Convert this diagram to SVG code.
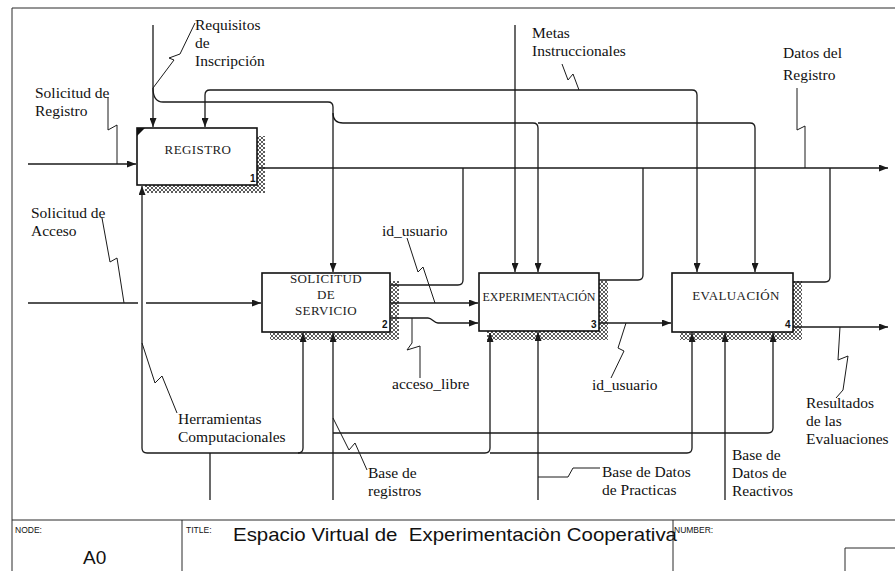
<svg xmlns="http://www.w3.org/2000/svg" width="895" height="571" viewBox="0 0 895 571">
<defs>
<marker id="arr" markerWidth="9" markerHeight="7" refX="9" refY="3.5" orient="auto" markerUnits="userSpaceOnUse"><path d="M0,0 L9,3.5 L0,7 z" fill="#1a1a1a"/></marker>
<pattern id="hatch" width="4" height="4" patternUnits="userSpaceOnUse"><rect width="4" height="4" fill="#fff"/><path d="M0,0 L4,4 M4,0 L0,4" stroke="#333" stroke-width="0.8"/></pattern>
</defs>
<style>
.frame{stroke:#2a2a2a;stroke-width:1;fill:none}
.box{fill:#fff;stroke:#111;stroke-width:1.6}
.shadow{fill:url(#hatch);stroke:none}
.btxt{font-family:"Liberation Serif",serif;font-size:13px;fill:#222;text-anchor:middle;letter-spacing:0.4px}
.num{font-family:"Liberation Sans",Arial,sans-serif;font-size:10px;font-weight:bold;fill:#111}
.ln{fill:none;stroke:#1a1a1a;stroke-width:1.3}
.sq{fill:none;stroke:#1a1a1a;stroke-width:1}
.lbl{font-family:"Liberation Serif",serif;font-size:15.5px;fill:#111}
.small{font-family:"Liberation Sans",Arial,sans-serif;font-size:8.5px;fill:#111}
.big{font-family:"Liberation Sans",Arial,sans-serif;font-size:19px;fill:#111}
</style>
<rect width="895" height="571" fill="#fff"/>
<g id="frame">
<path class="frame" d="M12,8 H895 M12,8 V571 M12,520 H895 M182,520 V571 M673,520 V571 M845,571 V548 H895"/>
<text class="small" x="15" y="533">NODE:</text>
<text class="small" x="186" y="533">TITLE:</text>
<text class="small" x="674" y="533">NUMBER:</text>
<text class="big" x="233" y="541" textLength="444" lengthAdjust="spacingAndGlyphs" xml:space="preserve">Espacio Virtual de  Experimentaciòn Cooperativa</text>
<text class="big" x="83" y="564">A0</text>
</g>
<g id="node-A1">
<rect class="shadow" x="257" y="136" width="8" height="57"/>
<rect class="shadow" x="145" y="185" width="112" height="8"/>
<rect class="box" x="137" y="128" width="120" height="57"/>
<path d="M137,128 L145,128 L137,136 z" fill="#111"/>
<text class="btxt" x="198" y="154">REGISTRO</text>
<text class="num" x="250" y="182">1</text>
</g>
<g id="node-A2">
<rect class="shadow" x="390" y="281" width="9" height="59"/>
<rect class="shadow" x="270" y="332" width="120" height="8"/>
<rect class="box" x="262" y="273" width="128" height="59"/>
<text class="btxt" x="326" y="283">SOLICITUD</text>
<text class="btxt" x="326" y="299">DE</text>
<text class="btxt" x="326" y="315">SERVICIO</text>
<text class="num" x="382" y="328">2</text>
</g>
<g id="node-A3">
<rect class="shadow" x="599" y="281" width="9" height="59"/>
<rect class="shadow" x="487" y="331" width="112" height="9"/>
<rect class="box" x="479" y="273" width="120" height="58"/>
<text class="btxt" x="539" y="301" style="font-size:12px;letter-spacing:0">EXPERIMENTACIÓN</text>
<text class="num" x="591" y="328">3</text>
</g>
<g id="node-A4">
<rect class="shadow" x="793" y="281" width="9" height="59"/>
<rect class="shadow" x="680" y="332" width="113" height="8"/>
<rect class="box" x="672" y="273" width="121" height="59"/>
<text class="btxt" x="736" y="300">EVALUACIÓN</text>
<text class="num" x="785" y="328">4</text>
</g>
<g id="connectors">
<path class="ln" d="M28,164 H136" marker-end="url(#arr)"/>
<path class="ln" d="M28,303 H138"/>
<path class="ln" d="M146,303 H261" marker-end="url(#arr)"/>
<path class="ln" d="M153,25 V127" marker-end="url(#arr)"/>
<path class="ln" d="M153,88 Q153,102 163,102 H328 Q333,102 333,107 V272" marker-end="url(#arr)"/>
<path class="ln" d="M333,113 Q333,123 343,123 H533 Q538,123 538,128 V272" marker-end="url(#arr)"/>
<path class="ln" d="M538,123 H750 Q755,123 755,128 V272" marker-end="url(#arr)"/>
<path class="ln" d="M515,25 V272" marker-end="url(#arr)"/>
<path class="ln" d="M515,90 H210 Q205,90 205,95 V127" marker-end="url(#arr)"/>
<path class="ln" d="M515,90 H692 Q697,90 697,95 V272" marker-end="url(#arr)"/>
<path class="ln" d="M257,168 H888" marker-end="url(#arr)"/>
<path class="ln" d="M391,285 H458 Q463,285 463,280 V168"/>
<path class="ln" d="M599,280 H638 Q643,280 643,275 V168"/>
<path class="ln" d="M793,282 H825 Q830,282 830,277 V168"/>
<path class="ln" d="M391,303 H478" marker-end="url(#arr)"/>
<path class="ln" d="M391,318 H428 C432,318 434,323 438,323 H478" marker-end="url(#arr)"/>
<path class="ln" d="M599,323 H671" marker-end="url(#arr)"/>
<path class="ln" d="M793,327 H888" marker-end="url(#arr)"/>
<path class="ln" d="M210,500 V453"/>
<path class="ln" d="M210,453 H147 Q142,453 142,448 V186" marker-end="url(#arr)"/>
<path class="ln" d="M210,453 H485 Q490,453 490,448 V333" marker-end="url(#arr)"/>
<path class="ln" d="M298,453 Q303,453 303,448 V333" marker-end="url(#arr)"/>
<path class="ln" d="M490,453 H687 Q692,453 692,448 V333" marker-end="url(#arr)"/>
<path class="ln" d="M333,500 V333" marker-end="url(#arr)"/>
<path class="ln" d="M333,433 H768 Q773,433 773,428 V333" marker-end="url(#arr)"/>
<path class="ln" d="M538,500 V332" marker-end="url(#arr)"/>
<path class="ln" d="M725,500 V333" marker-end="url(#arr)"/>
</g>
<g id="labels">
<path class="sq" d="M108,97 V130 L117,125 V164"/>
<text class="lbl" x="35" y="98">Solicitud de</text>
<text class="lbl" x="35" y="116">Registro</text>
<path class="sq" d="M102,218 L110,262 L117,258 L124,303"/>
<text class="lbl" x="31" y="218">Solicitud de</text>
<text class="lbl" x="31" y="236">Acceso</text>
<path class="sq" d="M153,88 L174,60 L169,58 L180,54 L195,23"/>
<text class="lbl" x="195" y="30">Requisitos</text>
<text class="lbl" x="195" y="48">de</text>
<text class="lbl" x="195" y="66">Inscripción</text>
<path class="sq" d="M562,64 L568,80 L573,74 L579,90"/>
<text class="lbl" x="532" y="38">Metas</text>
<text class="lbl" x="532" y="56">Instruccionales</text>
<path class="sq" d="M797,88 V130 L805,126 V168"/>
<text class="lbl" x="783" y="58">Datos del</text>
<text class="lbl" x="783" y="80">Registro</text>
<path class="sq" d="M407,238 L418,272 L423,267 L435,303"/>
<text class="lbl" x="382" y="236">id_usuario</text>
<path class="sq" d="M412,318 V343 L407,350 L420,346 V378"/>
<text class="lbl" x="392" y="389">acceso_libre</text>
<path class="sq" d="M626,323 L618,348 L624,351 L611,378"/>
<text class="lbl" x="592" y="390">id_usuario</text>
<path class="sq" d="M840,327 L838,360 L848,356 L843,390 L836,398"/>
<text class="lbl" x="806" y="408">Resultados</text>
<text class="lbl" x="806" y="426">de las</text>
<text class="lbl" x="806" y="444">Evaluaciones</text>
<path class="sq" d="M142,343 L155,383 L162,376 L177,413"/>
<text class="lbl" x="178" y="424">Herramientas</text>
<text class="lbl" x="178" y="442">Computacionales</text>
<path class="sq" d="M333,418 L349,450 L355,443 L367,470"/>
<text class="lbl" x="368" y="478">Base de</text>
<text class="lbl" x="368" y="496">registros</text>
<path class="sq" d="M538,477 H568 L573,468 H600"/>
<text class="lbl" x="602" y="477">Base de Datos</text>
<text class="lbl" x="602" y="495">de Practicas</text>
<text class="lbl" x="732" y="460">Base de</text>
<text class="lbl" x="732" y="478">Datos de</text>
<text class="lbl" x="732" y="496">Reactivos</text>
</g>
</svg>
